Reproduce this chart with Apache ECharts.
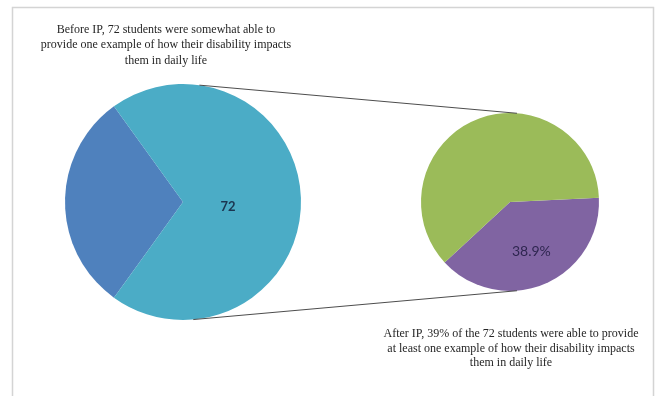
<!DOCTYPE html>
<html>
<head>
<meta charset="utf-8">
<script src="https://cdn.jsdelivr.net/npm/echarts@6/dist/echarts.min.js"></script>
<style>
  html, body { margin: 0; padding: 0; background: #fff; }
  #chart { width: 662px; height: 396px; }
</style>
</head>
<body>
<div id="chart"></div>
<script>
// Students before IP: somewhat able vs. the rest of the group
const beforeNames = ['Not able', 'Somewhat able'];
const beforeValues = [31, 72];

// Of those 72, ability after IP
const afterNames = ['Able after IP', 'Not yet able'];
const afterValues = [28, 44];

const beforeCaption = 'Before IP, 72 students were somewhat able to\nprovide one example of how their disability impacts\nthem in daily life';
const afterCaption = 'After IP, 39% of the 72 students were able to provide\nat least one example of how their disability impacts\nthem in daily life';

// Pie geometry
const mainCenter = [183, 202], mainRadius = 118;
const subCenter = [510, 202], subRadius = 89;

const beforeTotal = beforeValues.reduce((a, b) => a + b, 0);
const afterTotal = afterValues.reduce((a, b) => a + b, 0);
// keep the "not able" wedge centred on the left side
const mainStart = 180 + 360 * beforeValues[0] / beforeTotal / 2;
// keep the "able after IP" wedge pointing to the lower right
const subStart = 292.75 + 360 * afterValues[0] / afterTotal / 2;

function onCircle(c, r, deg) {
  const a = deg * Math.PI / 180;
  return [c[0] + r * Math.cos(a), c[1] - r * Math.sin(a)];
}
const lt = onCircle(mainCenter, mainRadius, 82), rt = onCircle(subCenter, subRadius, 85.5);
const lb = onCircle(mainCenter, mainRadius, -85), rb = onCircle(subCenter, subRadius, -85.5);

const chart = echarts.init(document.getElementById('chart'), null, { renderer: 'canvas' });
chart.setOption({
  backgroundColor: '#ffffff',
  animation: false,
  graphic: [
    { type: 'rect', shape: { x: 12.5, y: 7.5, width: 641, height: 400 },
      style: { fill: 'none', stroke: '#d4d4d4', lineWidth: 1.5 }, silent: true },
    { type: 'line', shape: { x1: lt[0], y1: lt[1], x2: rt[0], y2: rt[1] },
      style: { stroke: '#4d4d4d', lineWidth: 1 }, z: 10 },
    { type: 'line', shape: { x1: lb[0], y1: lb[1], x2: rb[0], y2: rb[1] },
      style: { stroke: '#4d4d4d', lineWidth: 1 }, z: 10 },
    { type: 'text', x: 166, y: 22,
      style: { text: beforeCaption, textAlign: 'center', textVerticalAlign: 'top',
        font: '12px "Liberation Serif"', lineHeight: 15.5, fill: '#262626' } },
    { type: 'text', x: 511, y: 327,
      style: { text: afterCaption, textAlign: 'center', textVerticalAlign: 'top',
        font: '12px "Liberation Serif"', lineHeight: 14.5, fill: '#262626' } }
  ],
  series: [
    {
      type: 'pie',
      center: mainCenter,
      radius: mainRadius,
      startAngle: mainStart,
      clockwise: true,
      silent: true,
      labelLine: { show: false },
      data: beforeNames.map((n, i) => ({
        name: n,
        value: beforeValues[i],
        itemStyle: { color: ['#4f81bd', '#4bacc6'][i] },
        label: i === 1 ? {
          show: true, position: 'inside', formatter: '{c}',
          fontFamily: 'Lato', fontWeight: 'bold', fontSize: 13, color: '#1b3550'
        } : { show: false }
      })),
      labelLayout: { dx: -17, dy: 5 }
    },
    {
      type: 'pie',
      center: subCenter,
      radius: subRadius,
      startAngle: subStart,
      clockwise: true,
      silent: true,
      labelLine: { show: false },
      data: afterNames.map((n, i) => ({
        name: n,
        value: afterValues[i],
        itemStyle: { color: ['#8064a2', '#9bbb59'][i] },
        label: i === 0 ? {
          show: true, position: 'inside',
          formatter: p => p.percent.toFixed(1) + '%',
          fontFamily: 'Lato', fontSize: 14, color: '#2e2650'
        } : { show: false }
      })),
      percentPrecision: 1,
      labelLayout: { dx: 3, dy: 6 }
    }
  ]
});
</script>
</body>
</html>
